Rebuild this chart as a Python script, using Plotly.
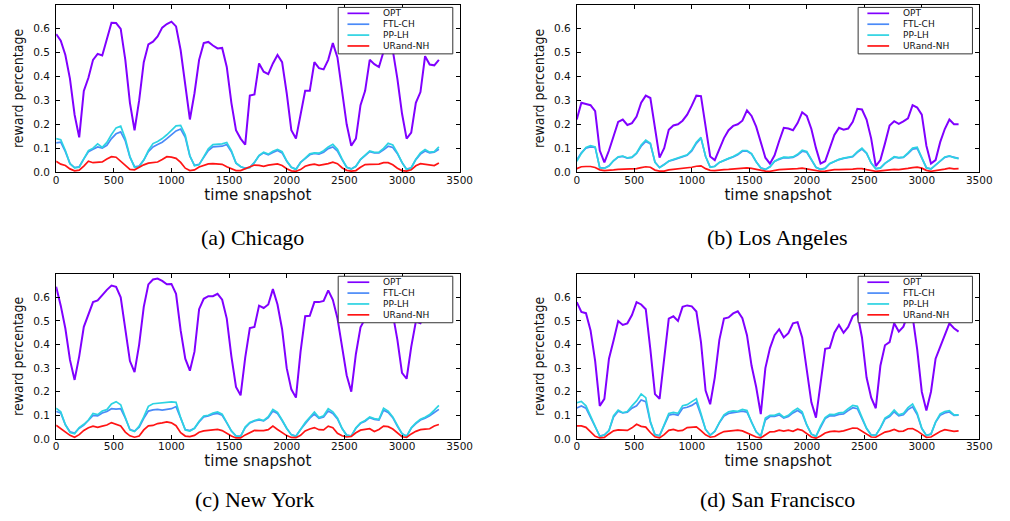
import plotly.graph_objects as go

# ---------------- data (time snapshot grid) ----------------
snapshots = list(range(0, 3321, 40))

x_ticks = [0, 500, 1000, 1500, 2000, 2500, 3000, 3500]
y_ticks = [0.0, 0.1, 0.2, 0.3, 0.4, 0.5, 0.6]
y_tick_labels = ["0.0", "0.1", "0.2", "0.3", "0.4", "0.5", "0.6"]

series_names = ["OPT", "FTL-CH", "PP-LH", "URand-NH"]
city_captions = ["(a) Chicago", "(b) Los Angeles", "(c) New York", "(d) San Francisco"]

# (a) Chicago
chicago_opt = [
    0.578, 0.55, 0.49, 0.39, 0.24, 0.145, 0.34, 0.395, 0.47, 0.495, 0.488, 0.56,
    0.625, 0.624, 0.6, 0.47, 0.29, 0.175, 0.3, 0.46, 0.535, 0.546, 0.568, 0.605,
    0.62, 0.63, 0.61, 0.51, 0.37, 0.22, 0.33, 0.47, 0.54, 0.545, 0.53, 0.518,
    0.52, 0.44, 0.29, 0.175, 0.14, 0.115, 0.32, 0.325, 0.455, 0.42, 0.41, 0.455,
    0.49, 0.46, 0.33, 0.175, 0.14, 0.24, 0.34, 0.34, 0.46, 0.435, 0.43, 0.47,
    0.54, 0.48, 0.35, 0.2, 0.11, 0.14, 0.28, 0.34, 0.47, 0.452, 0.44, 0.505,
    0.55, 0.51, 0.39, 0.245, 0.14, 0.165, 0.29, 0.335, 0.485, 0.45, 0.447, 0.47,
]
chicago_ftl = [
    0.122, 0.125, 0.085, 0.035, 0.018, 0.022, 0.055, 0.085, 0.095, 0.105, 0.1, 0.112,
    0.14, 0.16, 0.168, 0.13, 0.062, 0.022, 0.025, 0.05, 0.085, 0.105, 0.115, 0.125,
    0.14, 0.155, 0.172, 0.18, 0.145, 0.066, 0.028, 0.032, 0.06, 0.09, 0.105, 0.107,
    0.108, 0.115, 0.085, 0.037, 0.022, 0.016, 0.02, 0.04, 0.068, 0.08, 0.072, 0.082,
    0.09, 0.08, 0.045, 0.02, 0.012, 0.04, 0.058, 0.072, 0.078, 0.075, 0.083, 0.098,
    0.105, 0.088, 0.052, 0.02, 0.013, 0.024, 0.052, 0.07, 0.085, 0.08, 0.08, 0.093,
    0.108, 0.103, 0.077, 0.04, 0.012, 0.018, 0.052, 0.075, 0.088, 0.08, 0.083, 0.095,
]
chicago_pp = [
    0.14, 0.135, 0.09, 0.035, 0.017, 0.02, 0.055, 0.09, 0.1, 0.118, 0.103, 0.124,
    0.157, 0.185, 0.192, 0.14, 0.065, 0.02, 0.022, 0.05, 0.09, 0.119, 0.128, 0.14,
    0.156, 0.175, 0.193, 0.195, 0.155, 0.068, 0.026, 0.03, 0.063, 0.097, 0.115, 0.116,
    0.118, 0.124, 0.09, 0.038, 0.023, 0.014, 0.018, 0.04, 0.07, 0.083, 0.075, 0.087,
    0.095, 0.085, 0.047, 0.02, 0.01, 0.04, 0.06, 0.076, 0.08, 0.079, 0.089, 0.105,
    0.116, 0.095, 0.055, 0.02, 0.012, 0.024, 0.053, 0.071, 0.088, 0.082, 0.083, 0.099,
    0.12, 0.113, 0.08, 0.04, 0.01, 0.017, 0.054, 0.08, 0.094, 0.083, 0.085, 0.105,
]
chicago_urand = [
    0.045, 0.033, 0.027, 0.013, 0.005, 0.008, 0.025, 0.045, 0.039, 0.039, 0.042, 0.054,
    0.064, 0.062, 0.046, 0.027, 0.011, 0.009, 0.02, 0.03, 0.037, 0.039, 0.042, 0.052,
    0.064, 0.062, 0.057, 0.04, 0.016, 0.006, 0.009, 0.021, 0.029, 0.034, 0.035, 0.035,
    0.032, 0.022, 0.014, 0.006, 0.006, 0.013, 0.021, 0.029, 0.028, 0.024, 0.029, 0.03,
    0.034, 0.027, 0.014, 0.005, 0.003, 0.01, 0.024, 0.03, 0.033, 0.028, 0.03, 0.035,
    0.041, 0.035, 0.018, 0.007, 0.004, 0.006, 0.02, 0.031, 0.032, 0.031, 0.033, 0.039,
    0.039, 0.03, 0.016, 0.006, 0.004, 0.009, 0.026, 0.035, 0.033, 0.032, 0.027, 0.038,
]

# (b) Los Angeles
la_opt = [
    0.22, 0.29, 0.285, 0.28, 0.255, 0.09, 0.04, 0.09, 0.15, 0.21, 0.22, 0.197,
    0.205, 0.232, 0.29, 0.32, 0.31, 0.175, 0.06, 0.1, 0.177, 0.195, 0.2, 0.215,
    0.24, 0.278, 0.32, 0.318, 0.195, 0.065, 0.05, 0.095, 0.142, 0.175, 0.193, 0.2,
    0.215, 0.258, 0.235, 0.19, 0.12, 0.06, 0.035, 0.07, 0.13, 0.185, 0.182, 0.175,
    0.205, 0.25, 0.235, 0.18, 0.1, 0.035, 0.045, 0.1, 0.155, 0.185, 0.177, 0.182,
    0.21, 0.265, 0.262, 0.22, 0.14, 0.025, 0.05, 0.12, 0.195, 0.213, 0.202, 0.212,
    0.225, 0.28, 0.27, 0.24, 0.11, 0.035, 0.05, 0.125, 0.18, 0.22, 0.2, 0.2,
]
la_ftl = [
    0.05, 0.08, 0.1, 0.105, 0.103, 0.018, 0.016, 0.026, 0.047, 0.062, 0.065, 0.058,
    0.061, 0.078, 0.108, 0.128, 0.118, 0.042, 0.019, 0.031, 0.045, 0.051, 0.057, 0.063,
    0.07, 0.088, 0.12, 0.142, 0.066, 0.021, 0.024, 0.04, 0.049, 0.056, 0.063, 0.072,
    0.087, 0.088, 0.075, 0.043, 0.018, 0.011, 0.022, 0.044, 0.053, 0.06, 0.059, 0.061,
    0.071, 0.087, 0.083, 0.049, 0.02, 0.011, 0.016, 0.035, 0.045, 0.052, 0.057, 0.06,
    0.064, 0.082, 0.096, 0.078, 0.037, 0.014, 0.017, 0.036, 0.048, 0.062, 0.059, 0.061,
    0.077, 0.096, 0.099, 0.06, 0.018, 0.013, 0.028, 0.046, 0.061, 0.066, 0.06, 0.057,
]
la_pp = [
    0.045, 0.078, 0.103, 0.11, 0.105, 0.017, 0.015, 0.025, 0.048, 0.064, 0.067, 0.059,
    0.062, 0.08, 0.113, 0.134, 0.12, 0.04, 0.018, 0.03, 0.046, 0.052, 0.059, 0.065,
    0.072, 0.092, 0.125, 0.145, 0.065, 0.02, 0.023, 0.04, 0.05, 0.057, 0.065, 0.075,
    0.09, 0.09, 0.077, 0.043, 0.017, 0.01, 0.022, 0.045, 0.055, 0.062, 0.061, 0.063,
    0.074, 0.091, 0.086, 0.05, 0.019, 0.01, 0.015, 0.036, 0.046, 0.053, 0.058, 0.061,
    0.066, 0.085, 0.1, 0.08, 0.037, 0.013, 0.016, 0.036, 0.049, 0.064, 0.06, 0.062,
    0.08, 0.1, 0.104, 0.062, 0.017, 0.012, 0.028, 0.047, 0.063, 0.068, 0.06, 0.056,
]
la_urand = [
    0.014, 0.022, 0.023, 0.023, 0.019, 0.009, 0.006, 0.006, 0.009, 0.011, 0.012, 0.011,
    0.013, 0.014, 0.018, 0.022, 0.02, 0.008, 0.004, 0.004, 0.009, 0.011, 0.012, 0.014,
    0.016, 0.02, 0.024, 0.026, 0.014, 0.007, 0.006, 0.009, 0.01, 0.011, 0.012, 0.015,
    0.017, 0.017, 0.015, 0.011, 0.008, 0.004, 0.003, 0.008, 0.01, 0.011, 0.011, 0.012,
    0.014, 0.016, 0.013, 0.009, 0.006, 0.003, 0.004, 0.008, 0.01, 0.01, 0.01, 0.01,
    0.012, 0.014, 0.014, 0.01, 0.006, 0.003, 0.005, 0.008, 0.01, 0.011, 0.01, 0.011,
    0.015, 0.018, 0.02, 0.016, 0.007, 0.003, 0.005, 0.009, 0.012, 0.016, 0.013, 0.014,
]

# (c) New York
ny_opt = [
    0.645, 0.565, 0.468, 0.335, 0.25, 0.35, 0.475, 0.53, 0.58, 0.587, 0.611, 0.632,
    0.65, 0.645, 0.6, 0.465, 0.33, 0.283, 0.4, 0.56, 0.655, 0.676, 0.68, 0.67,
    0.656, 0.657, 0.615, 0.46, 0.34, 0.289, 0.37, 0.55, 0.594, 0.605, 0.605, 0.615,
    0.59, 0.51, 0.35, 0.22, 0.185, 0.345, 0.47, 0.475, 0.565, 0.555, 0.57, 0.635,
    0.57, 0.465, 0.3, 0.21, 0.175, 0.37, 0.52, 0.522, 0.58, 0.58, 0.585, 0.63,
    0.59, 0.512, 0.39, 0.27, 0.2, 0.36, 0.473, 0.51, 0.56, 0.58, 0.6, 0.62,
    0.58, 0.53, 0.42, 0.28, 0.255, 0.39, 0.497, 0.49, 0.53, 0.56, 0.57, 0.58,
]
ny_ftl = [
    0.116, 0.11, 0.06, 0.03, 0.025, 0.045, 0.058, 0.078, 0.1, 0.098, 0.11, 0.116,
    0.128, 0.126, 0.128, 0.088, 0.04, 0.033, 0.05, 0.087, 0.118, 0.123, 0.125, 0.122,
    0.125, 0.128, 0.137, 0.085, 0.04, 0.035, 0.045, 0.072, 0.093, 0.097, 0.105, 0.108,
    0.1, 0.068, 0.033, 0.013, 0.012, 0.048, 0.068, 0.076, 0.08, 0.076, 0.09, 0.118,
    0.108, 0.078, 0.044, 0.018, 0.012, 0.04, 0.066, 0.088, 0.105, 0.087, 0.093, 0.118,
    0.108, 0.085, 0.044, 0.016, 0.013, 0.045, 0.066, 0.075, 0.09, 0.083, 0.08, 0.122,
    0.112, 0.09, 0.053, 0.022, 0.012, 0.045, 0.065, 0.08, 0.088, 0.098, 0.112, 0.125,
]
ny_pp = [
    0.13, 0.115, 0.06, 0.027, 0.022, 0.048, 0.062, 0.08, 0.108, 0.103, 0.118, 0.124,
    0.148, 0.158, 0.145, 0.09, 0.038, 0.031, 0.054, 0.093, 0.138, 0.149, 0.151, 0.154,
    0.158, 0.157, 0.155, 0.09, 0.038, 0.033, 0.045, 0.075, 0.097, 0.1, 0.11, 0.114,
    0.105, 0.07, 0.034, 0.012, 0.01, 0.05, 0.07, 0.078, 0.084, 0.078, 0.094, 0.125,
    0.113, 0.08, 0.045, 0.017, 0.01, 0.04, 0.069, 0.092, 0.114, 0.09, 0.098, 0.128,
    0.115, 0.089, 0.045, 0.015, 0.012, 0.047, 0.068, 0.078, 0.093, 0.086, 0.083, 0.13,
    0.118, 0.093, 0.055, 0.022, 0.01, 0.047, 0.068, 0.083, 0.092, 0.103, 0.122, 0.142,
]
ny_urand = [
    0.058, 0.044, 0.03, 0.015, 0.007, 0.018, 0.036, 0.047, 0.054, 0.049, 0.054, 0.059,
    0.069, 0.063, 0.055, 0.029, 0.013, 0.007, 0.012, 0.038, 0.055, 0.057, 0.065, 0.068,
    0.072, 0.068, 0.056, 0.026, 0.012, 0.01, 0.015, 0.028, 0.034, 0.036, 0.038, 0.04,
    0.035, 0.022, 0.012, 0.004, 0.004, 0.017, 0.028, 0.036, 0.035, 0.035, 0.039, 0.054,
    0.04, 0.026, 0.014, 0.006, 0.005, 0.015, 0.034, 0.042, 0.048, 0.039, 0.038, 0.054,
    0.047, 0.024, 0.013, 0.008, 0.01, 0.026, 0.037, 0.04, 0.043, 0.031, 0.04, 0.054,
    0.052, 0.042, 0.024, 0.009, 0.006, 0.021, 0.032, 0.039, 0.041, 0.043, 0.055, 0.061,
]

# (d) San Francisco
sf_opt = [
    0.58, 0.538, 0.533, 0.46, 0.33, 0.14, 0.17, 0.34, 0.417, 0.5, 0.483, 0.49,
    0.525, 0.58, 0.57, 0.55, 0.38, 0.19, 0.17, 0.345, 0.51, 0.52, 0.5, 0.56,
    0.566, 0.562, 0.54, 0.41, 0.205, 0.147, 0.26, 0.42, 0.51, 0.515, 0.532, 0.541,
    0.512, 0.44, 0.31, 0.22, 0.105, 0.3, 0.385, 0.44, 0.465, 0.43, 0.448, 0.49,
    0.495, 0.43, 0.295, 0.155, 0.09, 0.23, 0.382, 0.386, 0.45, 0.483, 0.45, 0.475,
    0.52, 0.532, 0.43, 0.26, 0.175, 0.13, 0.31, 0.397, 0.41, 0.49, 0.455, 0.476,
    0.53, 0.52, 0.38, 0.2, 0.12, 0.2, 0.34, 0.39, 0.44, 0.49, 0.469, 0.455,
]
sf_ftl = [
    0.131, 0.14, 0.13, 0.09, 0.048, 0.012, 0.017, 0.035, 0.093, 0.117, 0.11, 0.113,
    0.13, 0.14, 0.165, 0.158, 0.07, 0.018, 0.014, 0.058, 0.1, 0.105, 0.1, 0.13,
    0.134, 0.142, 0.155, 0.1, 0.04, 0.016, 0.032, 0.068, 0.097, 0.108, 0.112, 0.113,
    0.118, 0.113, 0.068, 0.03, 0.012, 0.08, 0.095, 0.095, 0.102, 0.088, 0.095, 0.11,
    0.12, 0.108, 0.058, 0.02, 0.012, 0.052, 0.086, 0.098, 0.098, 0.104, 0.106, 0.12,
    0.132, 0.128, 0.088, 0.044, 0.017, 0.016, 0.046, 0.084, 0.095, 0.115, 0.098, 0.102,
    0.124, 0.136, 0.103, 0.044, 0.015, 0.02, 0.07, 0.1, 0.11, 0.114, 0.1, 0.101,
]
sf_pp = [
    0.153, 0.159, 0.14, 0.096, 0.05, 0.01, 0.016, 0.035, 0.098, 0.122, 0.111, 0.116,
    0.14, 0.161, 0.19, 0.175, 0.075, 0.016, 0.013, 0.06, 0.108, 0.112, 0.108, 0.141,
    0.145, 0.158, 0.17, 0.108, 0.04, 0.015, 0.032, 0.07, 0.102, 0.115, 0.119, 0.117,
    0.125, 0.12, 0.07, 0.03, 0.01, 0.088, 0.1, 0.1, 0.108, 0.092, 0.1, 0.117,
    0.13, 0.115, 0.06, 0.02, 0.01, 0.055, 0.09, 0.104, 0.103, 0.11, 0.112, 0.128,
    0.142, 0.138, 0.093, 0.045, 0.016, 0.015, 0.048, 0.088, 0.1, 0.122, 0.102, 0.108,
    0.133, 0.148, 0.11, 0.045, 0.014, 0.02, 0.072, 0.106, 0.116, 0.12, 0.102, 0.102,
]
sf_urand = [
    0.055, 0.055, 0.049, 0.028, 0.011, 0.004, 0.006, 0.021, 0.034, 0.038, 0.036, 0.036,
    0.047, 0.062, 0.053, 0.05, 0.027, 0.009, 0.004, 0.018, 0.036, 0.04, 0.034, 0.036,
    0.048, 0.048, 0.051, 0.035, 0.017, 0.007, 0.01, 0.022, 0.031, 0.033, 0.035, 0.037,
    0.034, 0.025, 0.015, 0.008, 0.004, 0.016, 0.03, 0.031, 0.037, 0.033, 0.037, 0.032,
    0.041, 0.036, 0.021, 0.008, 0.003, 0.012, 0.025, 0.031, 0.033, 0.031, 0.034, 0.04,
    0.046, 0.045, 0.033, 0.019, 0.008, 0.007, 0.017, 0.029, 0.033, 0.04, 0.032, 0.033,
    0.043, 0.044, 0.034, 0.018, 0.006, 0.008, 0.02, 0.031, 0.039, 0.035, 0.032, 0.034,
]

# ---------------- styling ----------------
W, H = 1010, 521
colors = ["#8000ff", "#4a8af8", "#2cd3e2", "#ff1414"]
line_widths = [2.0, 1.7, 1.7, 1.7]

panels = [
    dict(series=[chicago_opt, chicago_ftl, chicago_pp, chicago_urand], px_x=(54, 464), px_y=(5, 174)),
    dict(series=[la_opt, la_ftl, la_pp, la_urand], px_x=(583, 992), px_y=(5, 174)),
    dict(series=[ny_opt, ny_ftl, ny_pp, ny_urand], px_x=(54, 464), px_y=(277, 444)),
    dict(series=[sf_opt, sf_ftl, sf_pp, sf_urand], px_x=(583, 992), px_y=(277, 444)),
]
caption_pos = [(254, 240), (787, 240), (256, 505), (787, 505)]

sans = "DejaVu Sans, Verdana, sans-serif"
tick_font = dict(family=sans, size=10.5, color="#111111")
fig = go.Figure()
layout = dict(
    width=W, height=H, autosize=False,
    margin=dict(l=0, r=0, t=0, b=0, pad=0),
    paper_bgcolor="white", plot_bgcolor="white",
    showlegend=False,
)
shapes = []
annotations = []

# legend geometry, in pixels from the top of each panel (panel height ~168 px)
legend_top_px, legend_bottom_px = 2.5, 49.5
legend_rows_px = [8.5, 19.5, 30.5, 41.5]

for i, p in enumerate(panels):
    sfx = "" if i == 0 else str(i + 1)
    xa, ya = "x" + sfx, "y" + sfx
    for name, vals, col, lw in zip(series_names, p["series"], colors, line_widths):
        fig.add_trace(go.Scatter(
            x=snapshots, y=vals, name=name, mode="lines",
            line=dict(color=col, width=lw), xaxis=xa, yaxis=ya, showlegend=False,
        ))
    x0, x1 = p["px_x"]
    yt, yb = p["px_y"]
    ph = yb - yt
    layout["xaxis" + sfx] = dict(
        domain=[x0 / W, x1 / W], anchor=ya, range=[0, 3500],
        tickvals=x_ticks, ticktext=[str(v) for v in x_ticks],
        ticks="inside", ticklen=4, tickwidth=1, tickcolor="black",
        showline=True, linecolor="black", linewidth=1, mirror="ticks",
        showgrid=False, zeroline=False, tickfont=tick_font, ticklabelstandoff=-2,
        title=dict(text="time snapshot", standoff=0,
                   font=dict(family=sans, size=15, color="#111111")),
    )
    layout["yaxis" + sfx] = dict(
        domain=[1 - yb / H, 1 - yt / H], anchor=xa, range=[0, 0.7],
        tickvals=y_ticks, ticktext=y_tick_labels,
        ticks="inside", ticklen=4, tickwidth=1, tickcolor="black",
        showline=True, linecolor="black", linewidth=1, mirror="ticks",
        showgrid=False, zeroline=False, tickfont=tick_font, ticklabelstandoff=3,
        title=dict(text="reward percentage", standoff=6,
                   font=dict(family="Liberation Sans Narrow, DejaVu Sans Condensed, Arial Narrow, sans-serif",
                             size=14, color="#111111")),
    )
    # legend box (drawn above the lines, like the original)
    xd, yd = xa + " domain", ya + " domain"
    shapes.append(dict(type="rect", xref=xd, yref=yd, x0=0.699, x1=0.983,
                       y0=1 - legend_bottom_px / ph, y1=1 - legend_top_px / ph,
                       fillcolor="white", line=dict(color="#333333", width=1), layer="above"))
    for name, col, rpx in zip(series_names, colors, legend_rows_px):
        ry = 1 - rpx / ph
        shapes.append(dict(type="line", xref=xd, yref=yd, x0=0.722, x1=0.776, y0=ry, y1=ry,
                           line=dict(color=col, width=1.7), layer="above"))
        annotations.append(dict(text=name, xref=xd, yref=yd, x=0.807, y=ry,
                                xanchor="left", yanchor="middle", align="left", showarrow=False,
                                borderpad=0,
                                font=dict(family=sans, size=9, color="#111111")))
    cx, cy = caption_pos[i]
    annotations.append(dict(text=city_captions[i], xref="paper", yref="paper",
                            x=cx / W, y=1 - cy / H, xanchor="center", yanchor="middle",
                            showarrow=False,
                            font=dict(family="Liberation Serif, Times New Roman, serif", size=22, color="black")))

layout["shapes"] = shapes
layout["annotations"] = annotations
fig.update_layout(**layout)
fig.write_html("out.html", config={"displayModeBar": False},
               post_script="document.body.style.margin='0px';document.body.style.padding='0px';")
